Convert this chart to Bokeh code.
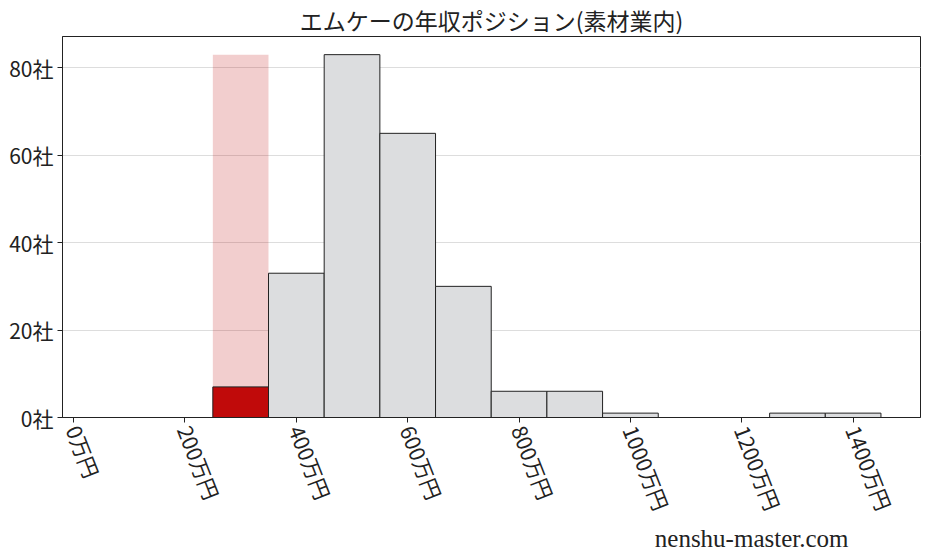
from bokeh.plotting import figure
from bokeh.models import ColumnDataSource, Range1d, FixedTicker, Title
from bokeh.embed import file_html
from bokeh.resources import INLINE

title = "エムケーの年収ポジション(素材業内)"
bin_left = [250, 350, 450, 550, 650, 750, 850, 950, 1050, 1150, 1250, 1350]
bin_right = [350, 450, 550, 650, 750, 850, 950, 1050, 1150, 1250, 1350, 1450]
counts = [7, 33, 83, 65, 30, 6, 6, 1, 0, 0, 1, 1]
highlight_bin = 0
x_ticks = [0, 200, 400, 600, 800, 1000, 1200, 1400]
x_tick_labels = ["0万円", "200万円", "400万円", "600万円", "800万円", "1000万円", "1200万円", "1400万円"]
y_ticks = [0, 20, 40, 60, 80]
y_tick_labels = ["0社", "20社", "40社", "60社", "80社"]
watermark = "nenshu-master.com"

JP = "Noto Sans CJK JP"

p = figure(width=921, height=555, output_backend="svg", toolbar_location=None,
           x_range=Range1d(-20, 1521), y_range=Range1d(0, 87.15),
           min_border_left=62, min_border_right=1, min_border_top=0, min_border_bottom=138)

p.title.text = title
p.title.align = "center"
p.title.text_font = JP
p.title.text_font_size = "23px"
p.title.text_font_style = "normal"
p.title.text_color = "#222222"
p.title.offset = 0
p.title.standoff = 0

# highlight background
hl_src = ColumnDataSource(dict(left=[bin_left[highlight_bin]], right=[bin_right[highlight_bin]],
                               top=[max(counts)]))
p.quad(left="left", right="right", bottom=0, top="top", source=hl_src,
       fill_color="#c00a0a", fill_alpha=0.2, line_color=None)

others = [i for i in range(len(counts)) if i != highlight_bin]
src = ColumnDataSource(dict(left=[bin_left[i] for i in others], right=[bin_right[i] for i in others],
                            top=[counts[i] for i in others]))
p.quad(left="left", right="right", bottom=0, top="top", source=src,
       fill_color="#dcdddf", line_color="#222222", line_width=1)

red_src = ColumnDataSource(dict(left=[bin_left[highlight_bin]], right=[bin_right[highlight_bin]],
                                top=[counts[highlight_bin]]))
p.quad(left="left", right="right", bottom=0, top="top", source=red_src,
       fill_color="#c00a0a", line_color="#222222", line_width=1)

p.xgrid.visible = False
p.ygrid.grid_line_color = "#dddddd"
p.ygrid.grid_line_width = 1
p.ygrid.ticker = FixedTicker(ticks=y_ticks)

p.outline_line_color = "#222222"
p.outline_line_width = 1

p.xaxis.ticker = FixedTicker(ticks=x_ticks)
p.xaxis.major_label_overrides = {t: l for t, l in zip(x_ticks, x_tick_labels)}
p.xaxis.major_label_orientation = -1.2
p.yaxis.ticker = FixedTicker(ticks=y_ticks)
p.yaxis.major_label_overrides = {t: l for t, l in zip(y_ticks, y_tick_labels)}

for ax in (p.xaxis, p.yaxis):
    ax.major_label_text_font = JP
    ax.major_label_text_font_size = "21px"
    ax.major_label_text_color = "#222222"
    ax.axis_line_color = "#222222"
    ax.major_tick_line_color = "#222222"
    ax.major_tick_in = 0
    ax.major_tick_out = 5
    ax.minor_tick_line_color = None
    ax.major_label_standoff = 4

wm = Title(text=watermark, align="right", offset=72, standoff=0,
           text_font="Liberation Serif", text_font_size="25px",
           text_font_style="normal", text_color="#222222")
p.add_layout(wm, "below")

open("out.html", "w").write(file_html(p, INLINE))
